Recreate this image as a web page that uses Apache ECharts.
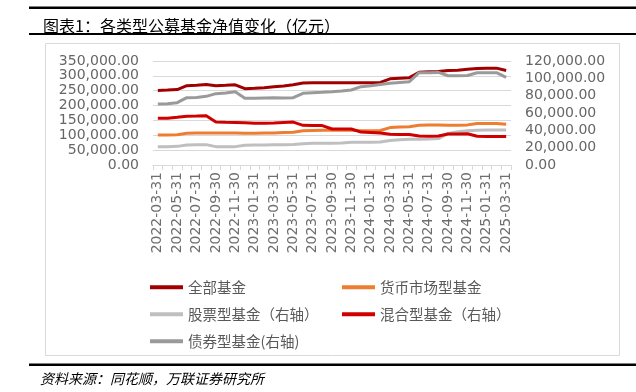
<!DOCTYPE html>
<html>
<head>
<meta charset="utf-8">
<script src="https://cdn.jsdelivr.net/npm/echarts@6.0.0/dist/echarts.min.js"></script>
<style>
  html, body { margin: 0; padding: 0; background: #fff; }
  #disp1 { width: 636px; height: 392px; }
</style>
</head>
<body>
<div id="disp1"></div>
<script>
// month-end dates, 2022-03 .. 2025-03
var dates = [
  '2022-03-31','2022-04-30','2022-05-31','2022-06-30','2022-07-31','2022-08-31','2022-09-30','2022-10-31','2022-11-30','2022-12-31',
  '2023-01-31','2023-02-28','2023-03-31','2023-04-30','2023-05-31','2023-06-30','2023-07-31','2023-08-31','2023-09-30','2023-10-31','2023-11-30','2023-12-31',
  '2024-01-31','2024-02-29','2024-03-31','2024-04-30','2024-05-31','2024-06-30','2024-07-31','2024-08-31','2024-09-30','2024-10-31','2024-11-30','2024-12-31',
  '2025-01-31','2025-02-28','2025-03-31'
];

// left axis (亿元)
var allFunds = [
  251000,252000,254000,267000,268000,271000,267000,268000,270000,257000,
  258000,260000,263000,266000,270000,276000,277000,277000,277000,277000,277000,277000,
  277000,278000,290000,292000,294000,312000,314000,315000,318000,319000,322000,325000,
  326000,326000,318000
];
var moneyFunds = [
  101000,101000,102000,107000,108000,108000,108000,108000,108000,107000,
  107000,108000,108000,109000,110000,115000,116000,117000,117000,117000,117000,115000,
  115000,116000,126000,128000,129000,134000,135000,135000,134000,134000,135000,140000,
  140000,140000,137000
];

// right axis (亿元)
var stockFunds = [
  21200,21200,21500,23000,23500,23500,21200,21000,21200,22700,
  23000,23000,23300,23500,23700,24600,25000,25000,25200,25500,26200,26200,
  26300,26500,28300,29000,29600,29800,30000,30500,36500,38500,39500,40200,
  40400,40500,40300
];
var mixedFunds = [
  53900,53900,55000,56200,56500,56900,49500,49200,49000,48800,
  48300,48300,48500,49000,49500,45800,45500,45500,41500,41500,41500,38000,
  37500,37000,35400,35300,35300,33500,33300,33500,35800,35800,36000,33100,
  33000,33000,33000
];
var bondFunds = [
  70400,70800,71900,77700,78000,79200,82300,83000,84500,76900,
  76900,77300,77700,77300,77700,82700,83500,83900,84600,85400,86500,90400,
  91500,93000,94300,95200,96100,106500,106500,106800,103000,103000,103200,106500,
  106500,106500,101200
];

var leftTicks = { min: 0, max: 350000, interval: 50000 };
var rightTicks = { min: 0, max: 120000, interval: 20000 };

var names = ['全部基金', '货币市场型基金', '股票型基金（右轴）', '混合型基金（右轴）', '债券型基金(右轴)'];
var colors = ['#A00000', '#ED7D31', '#BFBFBF', '#D00000', '#9A9A9A'];

var dom = document.getElementById('disp1');
var myChart = echarts.init(dom);
var option;

function fmt(v) {
  return v.toLocaleString('en-US', { minimumFractionDigits: 2, maximumFractionDigits: 2 });
}

var legendText = { color: '#595959', fontSize: 14.5, fontFamily: 'Noto Sans CJK SC' };
function legendAt(name, left, top) {
  return {
    data: [name], left: left, top: top,
    icon: 'rect', itemWidth: 33, itemHeight: 4,
    textStyle: legendText
  };
}

option = {
  backgroundColor: '#ffffff',
  animation: false,
  title: {
    text: '图表1：各类型公募基金净值变化（亿元）',
    left: 38, top: 13,
    textStyle: { fontSize: 16, fontWeight: 'normal', color: '#000', fontFamily: 'Noto Sans CJK SC' }
  },
  graphic: [
    { type: 'rect', shape: { x: 29, y: 6.5, width: 607, height: 2.5 }, style: { fill: '#000' } },
    { type: 'rect', shape: { x: 29, y: 33, width: 607, height: 2 }, style: { fill: '#000' } },
    { type: 'rect', shape: { x: 45.5, y: 43.5, width: 574, height: 312 }, style: { fill: 'none', stroke: '#D9D9D9', lineWidth: 1 } },
    { type: 'rect', shape: { x: 29, y: 363.5, width: 607, height: 2.5 }, style: { fill: '#000' } },
    { type: 'text', left: 40, top: 372,
      style: { text: '资料来源：同花顺，万联证券研究所', fontSize: 14, fontStyle: 'italic', fill: '#000', fontFamily: 'Noto Sans CJK SC' } }
  ],
  legend: [
    legendAt(names[0], 145, 275),
    legendAt(names[1], 337, 275),
    legendAt(names[2], 145, 302),
    legendAt(names[3], 337, 302),
    legendAt(names[4], 145, 329)
  ],
  grid: { left: 153, right: 125, top: 61, bottom: 227, outerBoundsMode: 'none' },
  xAxis: {
    type: 'category',
    data: dates,
    boundaryGap: true,
    axisLine: { lineStyle: { color: '#D9D9D9' } },
    axisTick: { show: true, interval: 0, length: 5, lineStyle: { color: '#D9D9D9' } },
    axisLabel: { interval: 1, rotate: 90, margin: 7, color: '#6E6E6E', fontSize: 14, fontFamily: 'DejaVu Sans' }
  },
  yAxis: [
    {
      type: 'value',
      min: leftTicks.min, max: leftTicks.max, interval: leftTicks.interval,
      axisLine: { show: false }, axisTick: { show: false },
      splitLine: { lineStyle: { color: '#D9D9D9' } },
      axisLabel: { margin: 14, color: '#666666', fontSize: 14, fontFamily: 'DejaVu Sans', formatter: fmt }
    },
    {
      type: 'value',
      position: 'right',
      min: rightTicks.min, max: rightTicks.max, interval: rightTicks.interval,
      axisLine: { show: false }, axisTick: { show: false },
      splitLine: { show: false },
      axisLabel: { margin: 14, color: '#666666', fontSize: 14, fontFamily: 'DejaVu Sans', formatter: fmt }
    }
  ],
  series: [
    { name: names[0], type: 'line', yAxisIndex: 0, data: allFunds },
    { name: names[1], type: 'line', yAxisIndex: 0, data: moneyFunds },
    { name: names[2], type: 'line', yAxisIndex: 1, data: stockFunds },
    { name: names[3], type: 'line', yAxisIndex: 1, data: mixedFunds },
    { name: names[4], type: 'line', yAxisIndex: 1, data: bondFunds }
  ].map(function (s, i) {
    s.showSymbol = false;
    s.symbol = 'none';
    s.color = colors[i];
    s.lineStyle = { width: 3, color: colors[i] };
    return s;
  })
};

window.onresize = function () {
  myChart.resize();
};

if (option && typeof option === 'object') {
  myChart.setOption(option);
}
</script>
</body>
</html>
